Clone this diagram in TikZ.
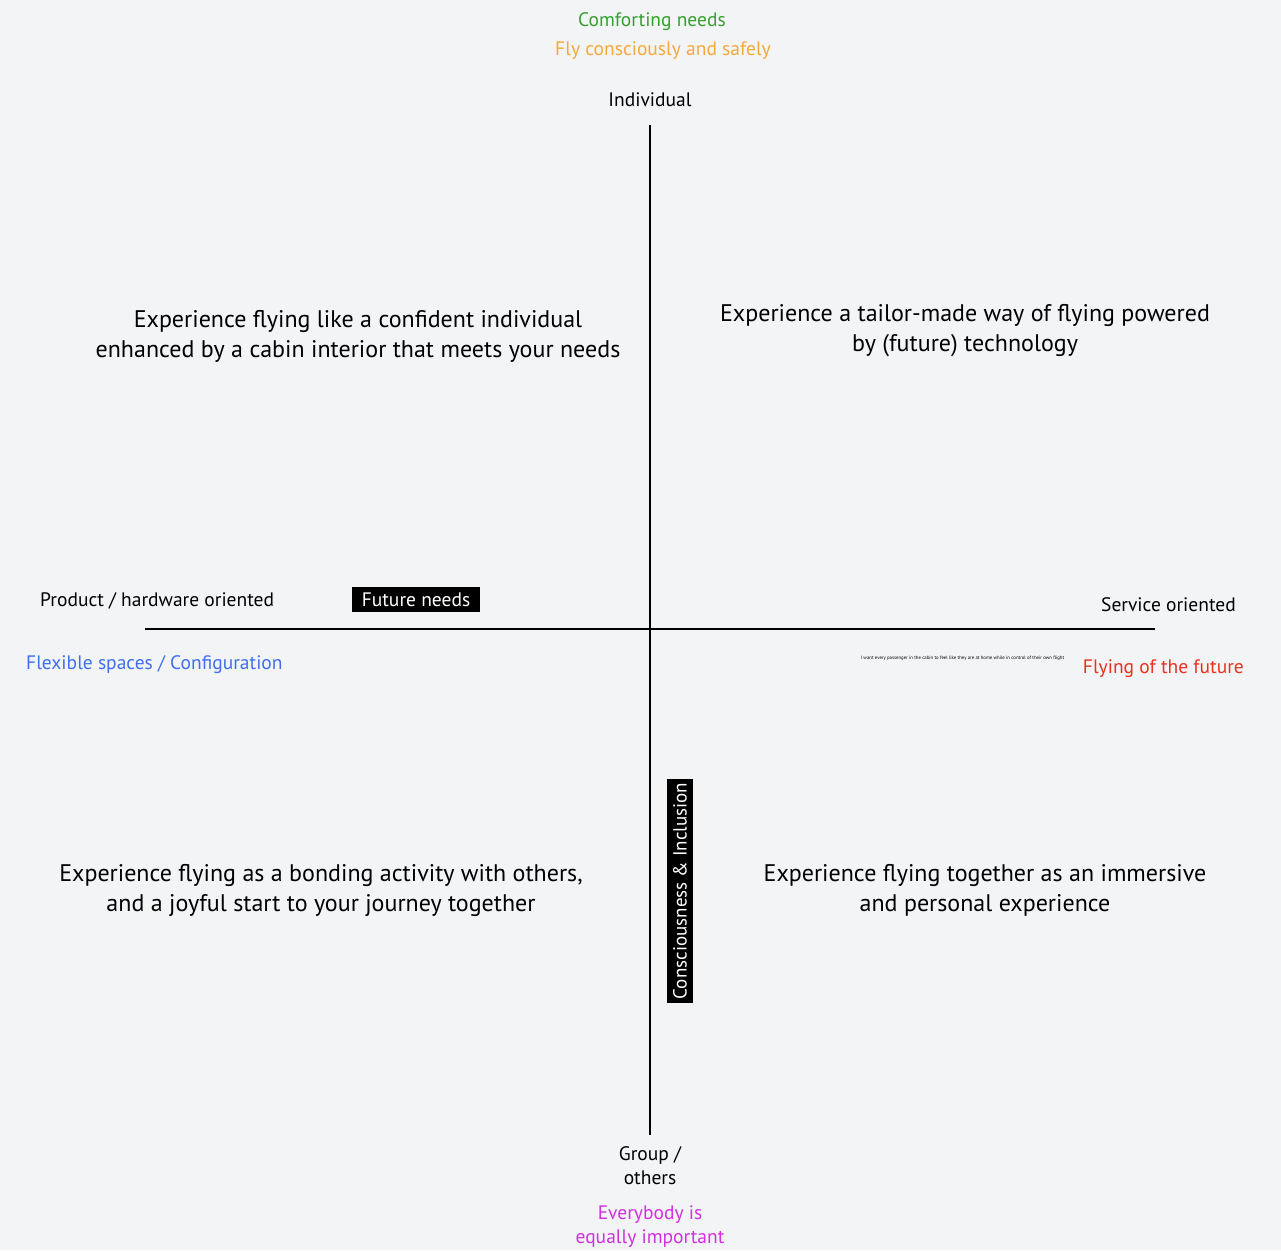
\documentclass[tikz,border=0pt]{standalone}
\usepackage{fontspec}
\setmainfont{PT Sans}
\definecolor{bg}{HTML}{F3F4F6}
\definecolor{cgreen}{HTML}{36A02E}
\definecolor{corange}{HTML}{F4A93E}
\definecolor{cblue}{HTML}{3F6FF0}
\definecolor{cred}{HTML}{E8321E}
\definecolor{cmag}{HTML}{D230E0}
\begin{document}
\begin{tikzpicture}[x=1pt,y=-1pt,
  axis/.style={line width=1.6pt,black},
  small/.style={font=\fontsize{19.5}{24}\selectfont,inner sep=0pt},
  big/.style={font=\fontsize{24}{30}\selectfont,align=center,inner sep=0pt},
  blackbox/.style={fill=black,text=white,font=\fontsize{19.5}{24}\selectfont,inner xsep=8pt,inner ysep=2pt,minimum height=25pt}]
\useasboundingbox[fill=bg] (0,0) rectangle (1281,1250);
% axes
\coordinate (top) at (650,125);
\coordinate (bot) at (650,1135);
\coordinate (left) at (145,629);
\coordinate (right) at (1155,629);
\draw[axis] (top) -- (bot);
\draw[axis] (left) -- (right);
% top labels
\node[small,text=cgreen] (comf) at (652,21.5) {Comforting needs};
\node[small,text=corange] (fly) at (663,50.5) {Fly consciously and safely};
\node[small] (indiv) at (650,100) {Individual};
% quadrants
\node[big] (q1) at (358,336) {Experience flying like a confident individual\\enhanced by a cabin interior that meets your needs};
\node[big] (q2) at (965,331) {Experience a tailor-made way of flying powered\\by (future) technology};
\node[big] (q3) at (321,890) {Experience flying as a bonding activity with others,\\and a joyful start to your journey together};
\node[big] (q4) at (985,890) {Experience flying together as an immersive\\and personal experience};
% side labels
\node[small,anchor=west] (prod) at (40,601) {Product / hardware oriented};
\node[blackbox,minimum width=128pt] (future) at (416,599.5) {Future needs};
\node[small,anchor=east] (serv) at (1236,605) {Service oriented};
\node[small,anchor=west,text=cblue] (flex) at (26,665) {Flexible spaces / Configuration};
\node[font=\fontsize{4.8}{5}\selectfont,inner sep=0pt] (want) at (962.5,658.5) {I want every passenger in the cabin to feel like they are at home while in control of their own flight};
\node[small,anchor=east,text=cred] (flyfut) at (1244,669) {Flying of the future};
\node[blackbox,rotate=90,minimum width=224pt,inner xsep=1pt,inner ysep=3pt,minimum height=26pt,font=\fontsize{19}{24}\selectfont] (consc) at (680,891) {Consciousness \& Inclusion};
% bottom labels
\node[small,align=center,font=\fontsize{19.5}{24}\selectfont] (group) at (650,1166) {Group /\\others};
\node[small,align=center,text=cmag,font=\fontsize{19.5}{24}\selectfont] (every) at (650,1227) {Everybody is\\equally important};
\end{tikzpicture}
\end{document}
